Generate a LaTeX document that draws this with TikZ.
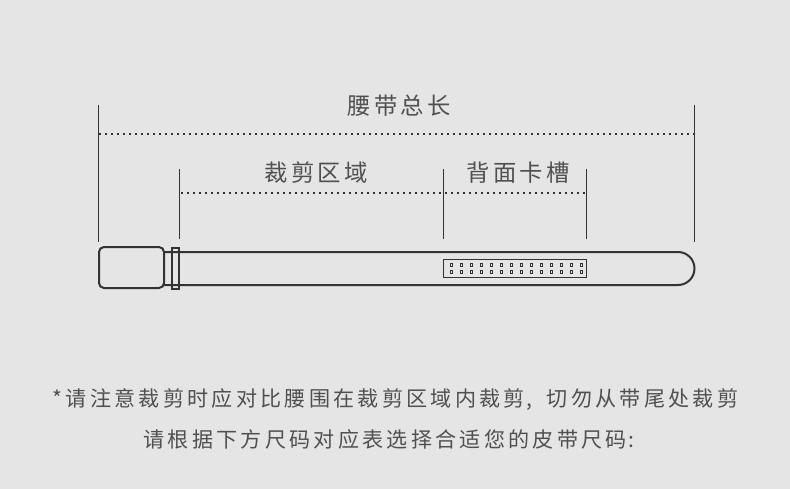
\documentclass[tikz,border=0pt]{standalone}
\usepackage{fontspec}
\usetikzlibrary{positioning}
\newfontfamily\cjk[LetterSpace=14]{Noto Sans CJK SC}
\newfontfamily\cjknote[LetterSpace=15.5]{Noto Sans CJK SC}
\definecolor{bgcol}{HTML}{E5E5E5}
\definecolor{linecol}{HTML}{333333}
\definecolor{textcol}{HTML}{505050}
\begin{document}
\begin{tikzpicture}[
  x=0.75pt, y=-0.75pt,
  every node/.style={inner sep=0pt, text=textcol},
  head/.style={font=\cjk\fontsize{17.5pt}{20pt}\selectfont},
  note/.style={font=\cjknote\fontsize{15.8pt}{20pt}\selectfont},
  tick/.style={draw=linecol, line width=0.7pt},
  span/.style={draw=linecol, line width=1.2pt, dash pattern=on 1.4pt off 3.1pt},
  belt/.style={draw=linecol, line width=1.5pt},
  hole/.style={draw=linecol, line width=0.7pt, minimum width=1.8pt, minimum height=2.4pt}
]
\path[fill=bgcol, use as bounding box] (0,0) rectangle (790,489);

\node[head] (total) at (399,105.5) {腰带总长};
\node[head] (cut)   at (316,172.5) {裁剪区域};
\node[head] (slot)  at (518,172.5) {背面卡槽};

% end marks
\coordinate (ta) at (98.5,105);   \coordinate (tb) at (98.5,242);
\coordinate (ua) at (694.5,105);  \coordinate (ub) at (694.5,242);
\coordinate (ca) at (179.5,169);  \coordinate (cb) at (179.5,239);
\coordinate (da) at (443.5,169);  \coordinate (db) at (443.5,239);
\coordinate (ea) at (586.5,169);  \coordinate (eb) at (586.5,239);
\draw[tick] (ta) -- (tb);
\draw[tick] (ua) -- (ub);
\draw[tick] (ca) -- (cb);
\draw[tick] (da) -- (db);
\draw[tick] (ea) -- (eb);

\coordinate (sa) at (99,134);   \coordinate (sb) at (694.5,134);
\coordinate (sc) at (181,193);  \coordinate (sd) at (586.5,193);
\draw[span] (sa) -- (sb);
\draw[span] (sc) -- (sd);

% belt
\draw[belt] (164,252) -- (678,252) arc[start angle=-90, end angle=90, radius=16.5] -- (164,285);
\draw[belt, rounded corners=3.75pt] (99,247) rectangle (164,288);
\draw[belt] (172,248) rectangle (179,289);

\draw[draw=linecol, line width=1pt] (443.5,259.5) rectangle (586.7,277.5);
\foreach \i in {0,...,13} {
  \node[hole] (ha\i) at (451.5+10*\i,265) {};
  \node[hole] (hb\i) at (451.5+10*\i,272) {};
}

\node[note] (line1) at (395.5,399.5) {*请注意裁剪时应对比腰围在裁剪区域内裁剪\hspace{1pt}, \hspace{5pt}切勿从带尾处裁剪};
\node[note] (line2) at (389,439.5) {请根据下方尺码对应表选择合适您的皮带尺码\hspace{1.5pt}:};
\end{tikzpicture}
\end{document}
